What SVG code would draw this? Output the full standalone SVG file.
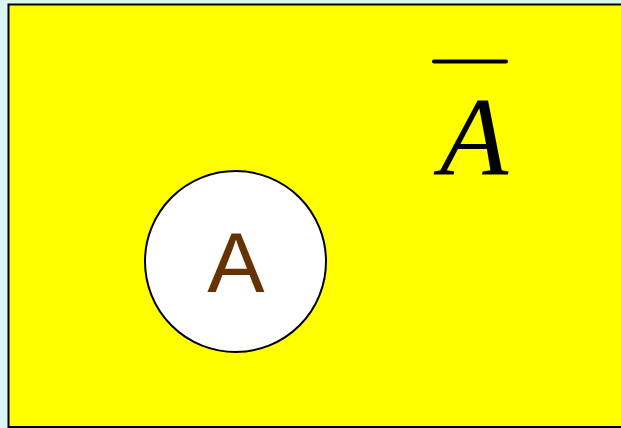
<svg xmlns="http://www.w3.org/2000/svg" width="621" height="428" viewBox="0 0 621 428">
<style>
.lbl{font-family:"Liberation Sans",Arial,sans-serif;}
.math{font-family:"Liberation Serif","Times New Roman",serif;font-style:italic;}
</style>
<rect width="621" height="428" fill="#dcf5f5"/>
<g id="universe">
<rect x="8.5" y="4.5" width="640" height="422.5" fill="#ffff00" stroke="#000" stroke-width="2"/>
<line x1="434" y1="61.5" x2="506" y2="61.5" stroke="#000" stroke-width="4" stroke-linecap="round"/>
<text class="math" x="474" y="175" font-size="112" text-anchor="middle">A</text>
</g>
<g id="setA">
<circle cx="235.5" cy="261.5" r="90.5" fill="#ffffff" stroke="#000" stroke-width="2"/>
<text class="lbl" x="236" y="292" font-size="86" fill="#663300" text-anchor="middle">A</text>
</g>
<g id="connectors"/>
</svg>
